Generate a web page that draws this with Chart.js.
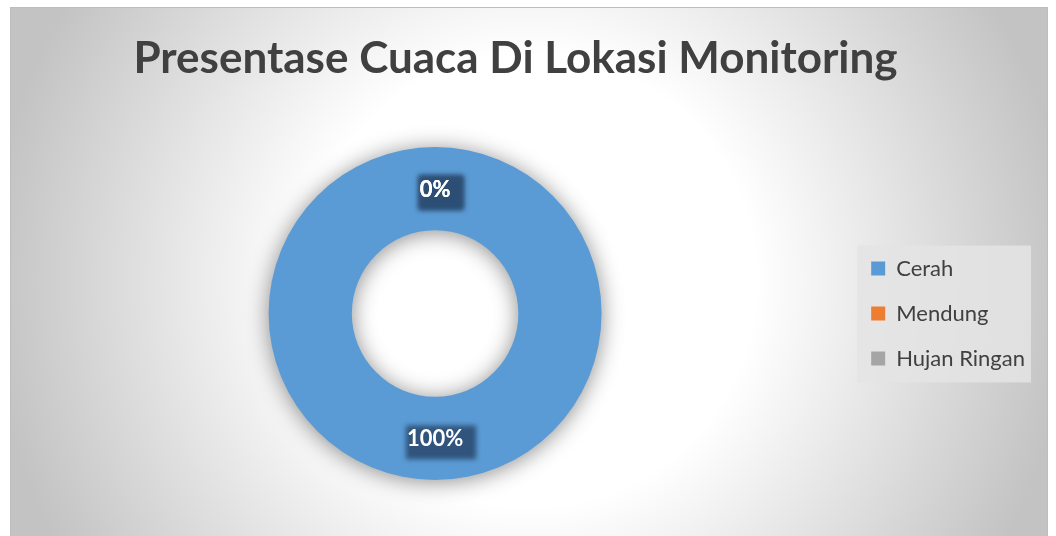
<!DOCTYPE html>
<html>
<head>
<meta charset="utf-8">
<script src="https://cdn.jsdelivr.net/npm/chart.js@4/dist/chart.umd.min.js"></script>
<style>
  html, body { margin: 0; padding: 0; background: #ffffff; width: 1056px; height: 536px; overflow: hidden; }
  #frame {
    position: absolute; left: 10px; top: 7px; width: 1038px; height: 620px;
    border: 1px solid #bdbdbd; box-sizing: border-box;
    background: radial-gradient(circle at 519px 273px, #ffffff 226px, #c3c3c3 541px);
  }
  #wrap { position: absolute; left: 0; top: 0; width: 1056px; height: 536px; }
</style>
</head>
<body>
<div id="frame"></div>
<div id="wrap"><canvas id="c"></canvas></div>
<script>
const titleText = 'Presentase Cuaca Di Lokasi Monitoring';
const categories = ['Cerah', 'Mendung', 'Hujan Ringan'];
const values = [100, 0, 0];
const colors = ['#5B9BD5', '#ED7D31', '#A5A5A5'];

const FONT = 'Lato, Carlito, Calibri, "Open Sans", sans-serif';

// Centre the title over the whole frame rather than the padded canvas
const titleShift = {
  id: 'titleShift',
  afterLayout(chart) {
    const t = chart.titleBlock;
    if (t) { t.left -= 13; t.right -= 13; }
  }
};

const shadowPlugin = {
  id: 'ringShadow',
  beforeDatasetDraw(chart) {
    const ctx = chart.ctx;
    ctx.save();
    ctx.shadowColor = 'rgba(0,0,0,0.45)';
    ctx.shadowBlur = 22;
    ctx.shadowOffsetX = 0;
    ctx.shadowOffsetY = 2;
  },
  afterDatasetDraw(chart) {
    chart.ctx.restore();
  }
};

const legendBg = {
  id: 'legendBg',
  beforeDraw(chart) {
    const lg = chart.legend;
    if (!lg || !lg.legendHitBoxes || !lg.legendHitBoxes.length) return;
    const hb = lg.legendHitBoxes;
    let l = Infinity, r = -Infinity, t = Infinity, b = -Infinity;
    hb.forEach(h => { l = Math.min(l, h.left); r = Math.max(r, h.left + h.width); t = Math.min(t, h.top); b = Math.max(b, h.top + h.height); });
    const ctx = chart.ctx;
    ctx.save();
    ctx.fillStyle = 'rgba(228,228,228,0.85)';
    ctx.fillRect(l - 14, t - 12, (r - l) + 20, (b - t) + 25);
    ctx.restore();
  }
};

const labelPlugin = {
  id: 'arcLabels',
  afterDatasetsDraw(chart) {
    const ctx = chart.ctx;
    const meta = chart.getDatasetMeta(0);
    const data = chart.data.datasets[0].data;
    const total = data.reduce((a, v) => a + v, 0);
    ctx.save();
    ctx.font = 'bold 22px ' + FONT;
    ctx.textAlign = 'center';
    ctx.textBaseline = 'middle';
    meta.data.forEach((arc, i) => {
      const pos = arc.tooltipPosition();
      const txt = Math.round(data[i] / total * 100) + '%';
      const w = ctx.measureText(txt).width;
      ctx.save();
      ctx.filter = 'blur(2.5px)';
      ctx.fillStyle = 'rgba(44,78,116,0.92)';
      ctx.fillRect(pos.x - w / 2 - 1, pos.y - 13, w + 14, 34);
      ctx.restore();
    });
    meta.data.forEach((arc, i) => {
      const pos = arc.tooltipPosition();
      const txt = Math.round(data[i] / total * 100) + '%';
      ctx.fillStyle = '#ffffff';
      ctx.fillText(txt, pos.x, pos.y + 1);
    });
    ctx.restore();
  }
};

new Chart(document.getElementById('c'), {
  type: 'doughnut',
  data: {
    labels: categories,
    datasets: [{
      data: values,
      backgroundColor: colors,
      borderWidth: 0,
      hoverOffset: 0
    }]
  },
  options: {
    responsive: true,
    maintainAspectRatio: false,
    animation: false,
    cutout: '50%',
    layout: { padding: { left: 22, right: 21, top: 0, bottom: 56 } },
    plugins: {
      title: {
        display: true,
        text: titleText,
        color: '#404040',
        font: { family: FONT, size: 44, weight: 'bold', lineHeight: 1.2 },
        padding: { top: 32, bottom: 62.2 }
      },
      legend: {
        position: 'right',
        align: 'center',
        fullSize: false,
        labels: {
          boxWidth: 14,
          boxHeight: 14,
          padding: 23,
          color: '#404040',
          font: { family: FONT, size: 22 }
        }
      },
      tooltip: { enabled: false }
    }
  },
  plugins: [titleShift, legendBg, shadowPlugin, labelPlugin]
});
</script>
</body>
</html>
